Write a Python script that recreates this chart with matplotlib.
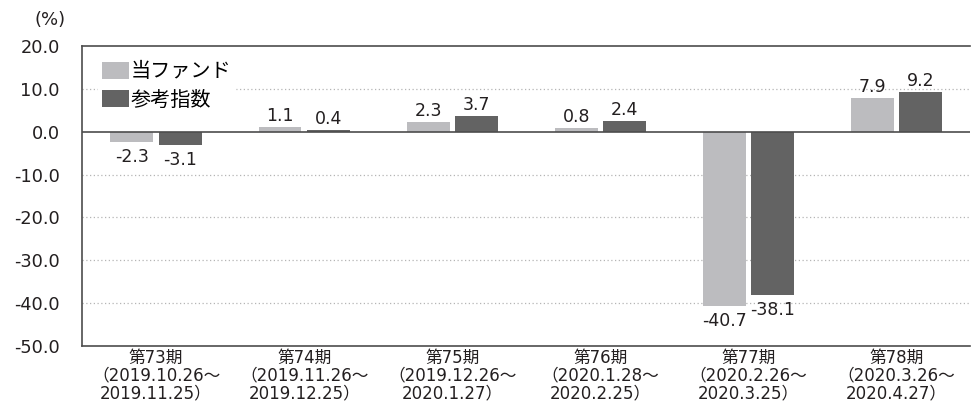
import numpy as np
import matplotlib.pyplot as plt

plt.rcParams['font.family'] = ['DejaVu Sans', 'Noto Sans CJK JP']

# データ
periods = ['第73期\n（2019.10.26～\n2019.11.25）',
           '第74期\n（2019.11.26～\n2019.12.25）',
           '第75期\n（2019.12.26～\n2020.1.27）',
           '第76期\n（2020.1.28～\n2020.2.25）',
           '第77期\n（2020.2.26～\n2020.3.25）',
           '第78期\n（2020.3.26～\n2020.4.27）']
fund = [-2.3, 1.1, 2.3, 0.8, -40.7, 7.9]
index = [-3.1, 0.4, 3.7, 2.4, -38.1, 9.2]
series_names = ['当ファンド', '参考指数']
yticks = [20, 10, 0, -10, -20, -30, -40, -50]

colors = ['#bcbcbf', '#636363']
text_color = '#231f20'

fig = plt.figure(figsize=(9.72, 4.17), dpi=100)
ax = fig.add_axes([0.0844, 0.170, 0.914, 0.720])

x = np.arange(len(periods))
w = 0.29
gap = 0.018
b1 = ax.bar(x - w / 2 - gap, fund, w, color=colors[0], label=series_names[0], zorder=3)
b2 = ax.bar(x + w / 2 + gap, index, w, color=colors[1], label=series_names[1], zorder=3)

# 数値ラベル
for bars, vals in [(b1, fund), (b2, index)]:
    for rect, v in zip(bars, vals):
        cx = rect.get_x() + rect.get_width() / 2
        if v >= 0:
            ax.annotate(f'{v:.1f}', (cx, v), xytext=(0, 1.5), textcoords='offset points',
                        ha='center', va='bottom', fontsize=12.5, color=text_color)
        else:
            ax.annotate(f'{v:.1f}', (cx, v), xytext=(0, -4.5), textcoords='offset points',
                        ha='center', va='top', fontsize=12.5, color=text_color)

ax.set_xlim(-0.5, len(periods) - 0.5)
ax.set_ylim(-50, 20)
ax.set_yticks(yticks)
ax.set_yticklabels([f'{t:.1f}' for t in yticks], fontsize=12.8, color=text_color)
ax.set_xticks(x)
ax.set_xticklabels(periods, fontsize=12, color=text_color, linespacing=1.0,
                   multialignment='center')
ax.tick_params(axis='y', length=0, pad=16)
ax.tick_params(axis='x', length=0, pad=2)

# グリッド
for t in yticks:
    if t in (0, 20, -50):
        continue
    ax.axhline(t, color='#b5b5b5', linestyle=(0, (1, 2)), linewidth=0.9, zorder=1)
ax.axhline(0, color='#4d4d4d', linewidth=1.2, zorder=4)

for s in ['left', 'top', 'bottom']:
    ax.spines[s].set_color('#4d4d4d')
    ax.spines[s].set_linewidth(1.2)
ax.spines['right'].set_visible(False)

leg = ax.legend(loc='upper left', bbox_to_anchor=(0.018, 0.96), frameon=True, fontsize=14.5,
                handlelength=1.35, handleheight=0.9, handletextpad=0.05, labelspacing=0.45,
                borderaxespad=0.0, borderpad=0.2, facecolor='white', edgecolor='white',
                framealpha=1.0)
leg.set_zorder(5)

fig.text(0.036, 0.94, '(%)', fontsize=13, color=text_color)

fig.savefig('out.png', dpi=100)
